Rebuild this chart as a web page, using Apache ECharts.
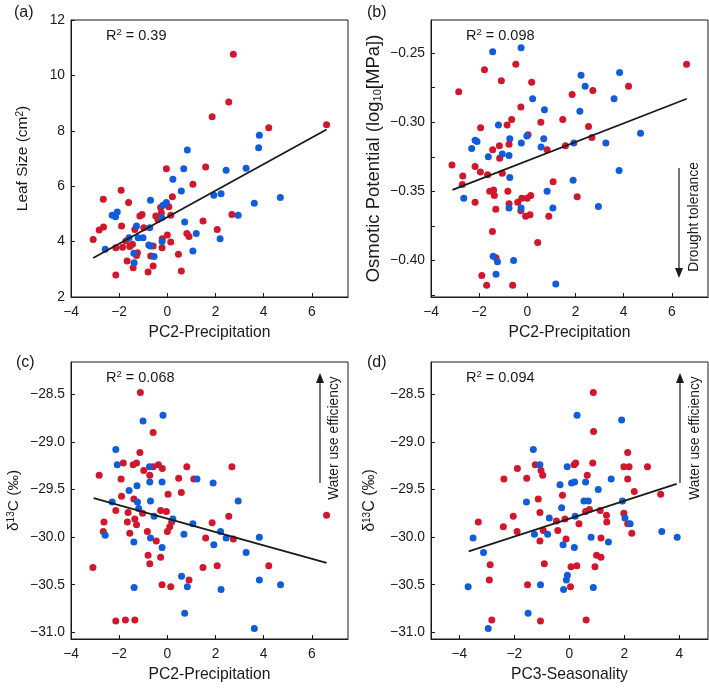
<!DOCTYPE html>
<html>
<head>
<meta charset="utf-8">
<script src="https://cdn.jsdelivr.net/npm/echarts@6.0.0/dist/echarts.min.js"></script>
<style>
  html, body { margin: 0; padding: 0; background: #fff; }
  #main { width: 709px; height: 688px; }
</style>
</head>
<body>
<div id="main"></div>
<script>
// (a) leaf size vs PC2
var aRed = [[-3.08,4.08],[-2.83,4.42],[-2.65,4.53],[-2.66,5.53],[-2.14,2.79],[-2.14,3.78],[-1.92,5.85],[-1.90,4.56],
  [-1.86,3.80],[-1.72,4.02],[-1.67,3.30],[-1.61,5.41],[-1.56,3.82],[-1.45,3.90],[-1.42,3.06],[-1.35,4.44],[-1.28,3.50],
  [-1.24,3.60],[-1.14,4.92],[-1.05,4.98],[-0.98,4.50],[-0.69,3.48],[-0.59,3.84],[-0.59,3.12],[-0.80,2.90],[-0.48,4.92],
  [-0.39,4.80],[-0.28,5.23],[-0.25,5.04],[-0.22,3.78],[-0.21,4.10],[-0.04,6.63],[0.00,4.24],[0.06,5.26],[0.14,4.95],
  [0.14,3.99],[0.21,5.62],[0.46,3.54],[0.58,2.94],[0.81,4.29],[0.90,4.18],[1.06,6.07],[1.48,4.74],[1.59,6.69],[1.86,8.51],
  [2.07,4.44],[2.55,9.04],[2.68,4.98],[2.74,10.76],[4.21,8.11],[6.61,8.22]];
var aBlue = [[-2.58,3.72],[-2.29,4.95],[-2.15,4.90],[-2.08,5.07],[-1.59,4.14],[-1.38,3.24],[-1.39,3.58],[-1.28,4.56],
  [-1.21,4.14],[-1.01,4.14],[-0.77,3.88],[-0.70,5.49],[-0.73,4.50],[-0.70,3.84],[-0.55,3.46],[-0.23,4.86],[-0.22,4.00],
  [-0.18,5.31],[-0.04,5.41],[0.23,6.25],[0.58,5.83],[0.68,6.63],[0.72,4.71],[0.83,7.31],[1.06,3.66],[1.20,4.29],
  [1.93,5.67],[2.23,5.73],[2.19,4.10],[2.44,6.58],[2.94,4.95],[3.27,6.65],[3.61,5.38],[3.79,7.39],[3.82,7.84],[4.69,5.59]];
var aFit = [[-3.08,3.41],[6.61,8.05]];

// (b) osmotic potential vs PC2
var bRed = [[-3.13,-0.331],[-2.85,-0.278],[-2.68,-0.339],[-2.70,-0.345],[-2.17,-0.332],[-2.17,-0.358],[-1.95,-0.336],
  [-1.94,-0.304],[-1.78,-0.262],[-1.89,-0.411],[-1.69,-0.418],[-1.65,-0.338],[-1.56,-0.350],[-1.44,-0.320],[-1.45,-0.379],
  [-1.40,-0.349],[-1.37,-0.353],[-1.31,-0.363],[-1.30,-0.398],[-1.16,-0.317],[-1.15,-0.326],[-1.08,-0.270],[-1.04,-0.337],
  [-0.84,-0.302],[-0.81,-0.350],[-0.76,-0.316],[-0.76,-0.359],[-0.65,-0.298],[-0.61,-0.418],[-0.48,-0.258],[-0.40,-0.358],
  [-0.27,-0.289],[-0.27,-0.364],[-0.23,-0.355],[-0.07,-0.368],[-0.01,-0.355],[0.03,-0.309],[0.11,-0.367],[0.14,-0.353],
  [0.18,-0.271],[0.43,-0.387],[0.56,-0.300],[0.82,-0.320],[0.89,-0.368],[1.07,-0.343],[1.47,-0.298],[1.58,-0.317],
  [1.86,-0.280],[2.07,-0.354],[2.54,-0.303],[2.68,-0.311],[2.72,-0.277],[4.20,-0.274],[6.61,-0.258]];
var bBlue = [[-2.64,-0.355],[-2.31,-0.319],[-2.17,-0.313],[-2.09,-0.314],[-1.62,-0.325],[-1.44,-0.249],[-1.42,-0.397],
  [-1.30,-0.410],[-1.24,-0.401],[-1.20,-0.302],[-1.04,-0.323],[-0.76,-0.324],[-0.73,-0.312],[-0.73,-0.340],[-0.76,-0.362],
  [-0.57,-0.400],[-0.26,-0.246],[-0.25,-0.315],[-0.26,-0.362],[-0.02,-0.310],[0.22,-0.283],[0.57,-0.318],[0.68,-0.312],
  [0.71,-0.291],[0.82,-0.350],[1.06,-0.362],[1.18,-0.417],[1.90,-0.342],[1.93,-0.315],[2.18,-0.292],[2.23,-0.266],
  [2.40,-0.274],[2.95,-0.361],[3.26,-0.315],[3.60,-0.283],[3.83,-0.264],[3.81,-0.335],[4.70,-0.308]];
var bFit = [[-3.11,-0.349],[6.62,-0.283]];

// (c) d13C vs PC2
var cRed = [[-3.09,-30.32],[-2.83,-29.35],[-2.63,-29.84],[-2.66,-29.94],[-2.14,-29.72],[-2.14,-30.88],[-1.92,-29.39],
  [-1.90,-29.57],[-1.83,-29.22],[-1.74,-30.87],[-1.66,-29.84],[-1.63,-29.74],[-1.56,-29.96],[-1.42,-29.24],[-1.39,-29.60],
  [-1.35,-29.81],[-1.28,-29.87],[-1.28,-29.22],[-1.35,-30.87],[-1.12,-28.48],[-1.14,-29.11],[-1.03,-29.75],[-0.98,-29.30],
  [-0.83,-29.94],[-0.80,-30.19],[-0.73,-29.35],[-0.73,-30.28],[-0.59,-28.90],[-0.59,-29.26],[-0.46,-30.04],[-0.37,-29.24],
  [-0.28,-29.72],[-0.28,-30.21],[-0.21,-29.28],[-0.22,-30.50],[-0.04,-29.73],[0.03,-29.55],[0.00,-29.94],[0.10,-29.89],
  [0.14,-30.52],[0.18,-29.84],[0.47,-29.38],[0.58,-29.53],[0.81,-29.26],[0.90,-30.45],[1.10,-29.39],[1.48,-30.32],
  [1.59,-30.01],[1.86,-29.85],[2.07,-30.30],[2.55,-29.78],[2.68,-29.26],[2.74,-30.02],[4.21,-30.30],[6.61,-29.77]];
var cBlue = [[-2.58,-29.98],[-2.29,-29.63],[-2.14,-29.08],[-2.08,-29.24],[-1.59,-29.51],[-1.39,-30.05],[-1.38,-30.53],
  [-1.26,-29.46],[-1.24,-29.63],[-1.19,-29.70],[-1.01,-28.78],[-0.74,-29.26],[-0.73,-29.42],[-0.70,-29.62],[-0.70,-30.01],
  [-0.55,-29.78],[-0.22,-29.42],[-0.22,-30.11],[-0.18,-28.72],[0.23,-29.81],[0.59,-30.41],[0.69,-29.97],[0.72,-30.80],
  [0.83,-30.52],[1.06,-29.86],[1.23,-29.39],[1.90,-29.43],[1.93,-30.08],[2.21,-29.94],[2.23,-30.55],[2.44,-30.01],
  [2.94,-29.62],[3.27,-30.16],[3.61,-30.96],[3.82,-30.45],[3.82,-30.00],[4.70,-30.50]];
var cFit = [[-3.06,-29.59],[6.61,-30.27]];

// (d) d13C vs PC3
var dRed = [[-3.31,-29.84],[-2.88,-30.29],[-2.91,-30.45],[-2.82,-30.87],[-2.38,-29.39],[-2.40,-29.89],[-2.04,-29.78],
  [-1.89,-29.28],[-1.90,-29.94],[-1.55,-29.38],[-1.52,-30.50],[-1.24,-29.24],[-1.13,-29.60],[-1.07,-29.74],[-1.07,-30.04],
  [-1.05,-30.88],[-1.03,-29.30],[-0.97,-29.35],[-0.95,-29.93],[-0.91,-30.28],[-0.47,-29.83],[-0.42,-29.93],[-0.25,-29.56],
  [-0.16,-29.81],[-0.12,-30.02],[0.04,-30.52],[0.06,-30.31],[0.17,-29.24],[0.23,-29.22],[0.27,-30.30],[0.35,-29.86],
  [0.59,-29.73],[0.61,-30.87],[0.65,-29.35],[0.73,-29.71],[0.85,-29.22],[0.87,-28.48],[0.88,-28.89],[0.93,-30.31],
  [0.99,-30.19],[1.12,-29.72],[1.15,-30.21],[1.15,-30.01],[1.35,-29.77],[1.36,-29.84],[1.98,-29.26],[1.98,-29.75],
  [2.12,-29.39],[2.12,-29.86],[2.12,-29.11],[2.17,-29.26],[2.27,-29.96],[2.36,-29.52],[2.84,-29.26],[3.32,-29.55]];
var dBlue = [[-3.68,-30.52],[-3.50,-30.01],[-3.12,-30.16],[-2.95,-30.96],[-1.56,-29.63],[-1.50,-30.80],[-1.31,-29.08],
  [-1.27,-29.97],[-1.07,-29.24],[-1.05,-30.50],[-0.79,-29.97],[-0.73,-29.80],[-0.34,-29.45],[-0.28,-29.69],[-0.23,-30.08],
  [-0.21,-30.55],[-0.11,-30.45],[-0.07,-30.40],[-0.08,-29.26],[0.08,-29.43],[0.19,-29.42],[0.18,-30.11],[0.21,-29.78],
  [0.28,-28.72],[0.53,-29.62],[0.59,-29.42],[0.69,-29.62],[0.79,-30.00],[0.87,-30.53],[1.05,-29.50],[1.42,-30.05],
  [1.52,-29.39],[1.90,-28.77],[1.93,-29.62],[2.02,-29.80],[2.21,-29.86],[3.36,-29.94],[3.92,-30.00]];
var dFit = [[-3.66,-30.15],[3.90,-29.44]];

// tick values
var xTicksPC2 = [-4, -2, 0, 2, 4, 6];
var xTicksPC3 = [-4, -2, 0, 2, 4];
var yTicksA = [2, 4, 6, 8, 10, 12];
var yTicksB = [-0.40, -0.35, -0.30, -0.25];
var yTicksBMinor = [-0.425, -0.40, -0.375, -0.35, -0.325, -0.30, -0.275, -0.25];
var yTicksCD = [-31.0, -30.5, -30.0, -29.5, -29.0, -28.5];

var FONT = "'Liberation Sans', Arial, sans-serif";
var INK = '#1a1a1a';
var RED = '#d2172c';
var BLUE = '#0f5ddb';

function minus(s) { return String(s).replace('-', '\u2212'); }

function xAxis(idx, min, max, ticks, name) {
  return {
    type: 'value', gridIndex: idx, min: min, max: max,
    name: name, nameLocation: 'middle', nameGap: 28,
    nameTextStyle: { fontFamily: FONT, fontSize: 15.7, color: INK },
    axisLine: { show: true, onZero: false, lineStyle: { color: INK } },
    axisTick: { show: true, inside: true, length: 4, customValues: ticks, lineStyle: { color: INK } },
    axisLabel: { customValues: ticks, margin: 8, fontFamily: FONT, fontSize: 13.8, color: INK,
      formatter: function (v) { return minus(v); } },
    splitLine: { show: false }
  };
}

function yAxis(idx, min, max, ticks, tickMarks, digits, name, nameSize, gap, rich) {
  return {
    type: 'value', gridIndex: idx, min: min, max: max,
    name: name, nameLocation: 'middle', nameGap: gap,
    nameTextStyle: { fontFamily: FONT, fontSize: nameSize, color: INK, rich: rich },
    axisLine: { show: true, onZero: false, lineStyle: { color: INK } },
    axisTick: { show: true, inside: true, length: 4, customValues: tickMarks, lineStyle: { color: INK } },
    axisLabel: { customValues: ticks, margin: 6, fontFamily: FONT, fontSize: 13.8, color: INK,
      formatter: function (v) { return minus(digits >= 0 ? v.toFixed(digits) : v); } },
    splitLine: { show: false }
  };
}

function dots(data, color, idx) {
  return { type: 'scatter', data: data, xAxisIndex: idx, yAxisIndex: idx, symbolSize: 7,
    itemStyle: { color: color, opacity: 1 }, silent: true };
}
function fit(data, idx) {
  return { type: 'line', data: data, xAxisIndex: idx, yAxisIndex: idx, symbol: 'none',
    lineStyle: { color: INK, width: 1.8 }, silent: true };
}

var sup = { fontSize: 10, verticalAlign: 'top', lineHeight: 10, fontFamily: FONT, color: INK };
var sub = { fontSize: 11, verticalAlign: 'bottom', lineHeight: 11, fontFamily: FONT, color: INK };

function label(x, y, text, size) {
  return { type: 'text', x: x, y: y, style: { text: text, fontFamily: FONT, fontSize: size || 16, fill: INK,
    verticalAlign: 'middle' } };
}
function r2(x, y, val) {
  return { type: 'text', x: x, y: y, style: { text: 'R{s|2} = ' + val, fontFamily: FONT, fontSize: 14.5,
    lineHeight: 18, fill: INK, verticalAlign: 'middle', rich: { s: { fontSize: 9.5, verticalAlign: 'top', lineHeight: 10, fontFamily: FONT } } } };
}
function vtext(x, y, text) {
  return { type: 'text', x: x, y: y, rotation: Math.PI / 2, style: { text: text, fontFamily: FONT, fontSize: 13.8,
    fill: INK, align: 'center', verticalAlign: 'middle' } };
}
function arrow(x, y1, y2) {
  // y1 = tail, y2 = tip
  var dir = y2 > y1 ? 1 : -1;
  return [
    { type: 'line', shape: { x1: x, y1: y1, x2: x, y2: y2 - dir * 8 }, style: { stroke: INK, lineWidth: 1.2 } },
    { type: 'polygon', shape: { points: [[x - 4, y2 - dir * 10], [x + 4, y2 - dir * 10], [x, y2]] }, style: { fill: INK } }
  ];
}

var chart = echarts.init(document.getElementById('main'));
chart.setOption({
  animation: false,
  backgroundColor: '#fff',
  grid: [
    { left: 71, top: 20, width: 277, height: 277, show: true, borderColor: INK, borderWidth: 1 },
    { left: 431, top: 20, width: 277, height: 277, show: true, borderColor: INK, borderWidth: 1 },
    { left: 71, top: 362, width: 277, height: 277, show: true, borderColor: INK, borderWidth: 1 },
    { left: 431, top: 362, width: 277, height: 277, show: true, borderColor: INK, borderWidth: 1 }
  ],
  xAxis: [
    xAxis(0, -4, 7.5, xTicksPC2, 'PC2-Precipitation'),
    xAxis(1, -4, 7.5, xTicksPC2, 'PC2-Precipitation'),
    xAxis(2, -4, 7.5, xTicksPC2, 'PC2-Precipitation'),
    xAxis(3, -5.03, 5.04, xTicksPC3, 'PC3-Seasonality')
  ],
  yAxis: [
    yAxis(0, 2, 12, yTicksA, yTicksA, -1, 'Leaf Size (cm{s|2})', 15.5, 40, { s: sup }),
    yAxis(1, -0.4265, -0.226, yTicksB, yTicksBMinor, 2, 'Osmotic Potential (log{b|10}[MPa])', 18.5, 48, { b: sub }),
    yAxis(2, -31.07, -28.16, yTicksCD, yTicksCD, 1, '\u03b4{s|13}C (\u2030)', 15.5, 49, { s: sup }),
    yAxis(3, -31.07, -28.16, yTicksCD, yTicksCD, 1, '\u03b4{s|13}C (\u2030)', 16, 53, { s: sup })
  ],
  series: [
    dots(aRed, RED, 0), dots(aBlue, BLUE, 0), fit(aFit, 0),
    dots(bRed, RED, 1), dots(bBlue, BLUE, 1), fit(bFit, 1),
    dots(cRed, RED, 2), dots(cBlue, BLUE, 2), fit(cFit, 2),
    dots(dRed, RED, 3), dots(dBlue, BLUE, 3), fit(dFit, 3)
  ],
  graphic: [
    label(14, 13, '(a)'), label(367, 13, '(b)'), label(16, 363, '(c)'), label(367, 363, '(d)'),
    r2(106, 36, '0.39'), r2(466, 36, '0.098'), r2(106, 378, '0.068'), r2(466, 378, '0.094'),
    vtext(694, 217, 'Drought tolerance'),
    vtext(334, 438, 'Water use efficiency'),
    vtext(695, 438, 'Water use efficiency')
  ].concat(arrow(679, 168, 278), arrow(320, 483, 373), arrow(680, 483, 373))
});
</script>
</body>
</html>
